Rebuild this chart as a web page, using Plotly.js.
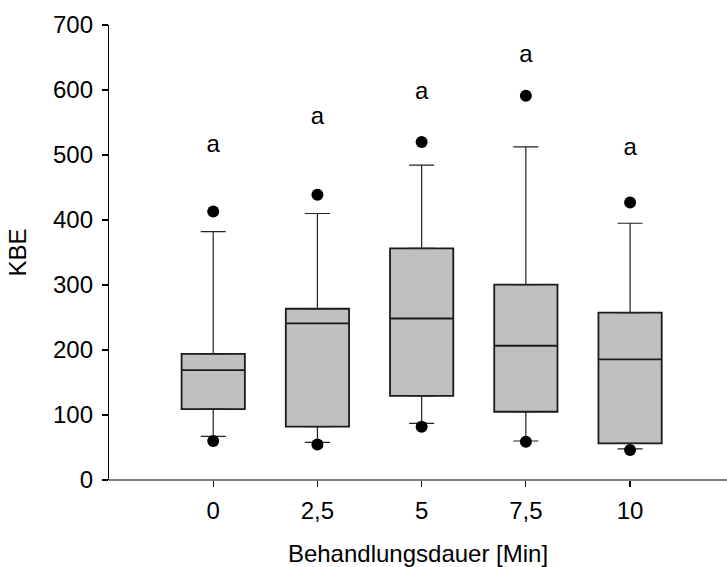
<!DOCTYPE html>
<html>
<head>
<meta charset="utf-8">
<script src="https://cdn.plot.ly/plotly-3.0.1.min.js"></script>
<style>html,body{margin:0;padding:0;background:#fff;overflow:hidden;}#chart{width:727px;height:567px;}</style>
</head>
<body>
<div id="chart"></div>
<script>
var categories = ['0', '2,5', '5', '7,5', '10'];
var q1 = [109, 82, 129.5, 105, 56.5];
var median = [169, 241, 248.5, 206.5, 185.5];
var q3 = [194, 263.5, 356.5, 300.5, 257.5];
var lowerWhisker = [67, 58, 87, 60, 48];
var upperWhisker = [382, 410, 484.5, 512.5, 395];
var outliersHigh = [413, 439, 520, 591, 427];
var outliersLow = [60, 54.5, 82, 59, 46];
var letters = ['a', 'a', 'a', 'a', 'a'];
var letterY = [514, 557, 596, 653, 509];

var FONT = 'Arial, "Liberation Sans", sans-serif';
var FS = 24;

var upArr = upperWhisker.map(function (v, i) { return v - q3[i]; });
var downArr = lowerWhisker.map(function (v, i) { return q1[i] - v; });
var zeros = categories.map(function () { return 0; });

var traces = [
  {
    type: 'scatter', mode: 'none', x: categories, y: q3,
    error_y: { type: 'data', symmetric: false, array: upArr, arrayminus: zeros,
               color: '#222', thickness: 1.2, width: 12.5 },
    hoverinfo: 'skip', showlegend: false
  },
  {
    type: 'scatter', mode: 'none', x: categories, y: q1,
    error_y: { type: 'data', symmetric: false, array: zeros, arrayminus: downArr,
               color: '#222', thickness: 1.2, width: 12.5 },
    hoverinfo: 'skip', showlegend: false
  },
  {
    type: 'box', x: categories, q1: q1, median: median, q3: q3,
    lowerfence: q1, upperfence: q3,
    width: 0.607, whiskerwidth: 0,
    fillcolor: '#c0c0c0',
    line: { color: '#1a1a1a', width: 1.8 },
    boxpoints: false, showlegend: false
  },
  {
    type: 'scatter', mode: 'markers', x: categories.concat(categories),
    y: outliersHigh.concat(outliersLow),
    marker: { color: '#000', size: 12 },
    showlegend: false
  },
  {
    type: 'scatter', mode: 'text', x: categories, y: letterY, text: letters,
    textposition: 'middle center',
    textfont: { family: FONT, size: FS, color: '#000' },
    showlegend: false
  }
];

var layout = {
  width: 727, height: 567,
  margin: { l: 109, r: 0, t: 25, b: 87, autoexpand: false },
  paper_bgcolor: '#fff', plot_bgcolor: '#fff',
  font: { family: FONT, size: FS, color: '#000' },
  showlegend: false,
  xaxis: {
    type: 'category', categoryarray: categories, range: [-1, 4.93],
    showgrid: false, zeroline: false,
    showline: false,
    ticks: 'outside', ticklen: 6, tickcolor: '#000', tickwidth: 1.2,
    ticklabelstandoff: 3,
    tickfont: { family: FONT, size: FS, color: '#000' },
    title: { text: 'Behandlungsdauer [Min]', font: { family: FONT, size: FS, color: '#000' }, standoff: 26 },
    automargin: false
  },
  yaxis: {
    range: [0, 700], tickvals: [0, 100, 200, 300, 400, 500, 600, 700],
    showgrid: false, zeroline: false,
    showline: true, linecolor: '#000', linewidth: 1.2,
    ticks: 'outside', ticklen: 6, tickcolor: '#000', tickwidth: 1.2,
    ticklabelstandoff: 4,
    tickfont: { family: FONT, size: FS, color: '#000' },
    title: { text: 'KBE', font: { family: FONT, size: FS, color: '#000' }, standoff: 19 },
    automargin: false
  },
  shapes: [
    { type: 'line', xref: 'paper', yref: 'paper', x0: 0, x1: 1, y0: 0, y1: 0,
      line: { color: '#000', width: 1.2 } }
  ]
};

Plotly.newPlot('chart', traces, layout, { displayModeBar: false, staticPlot: true });
</script>
</body>
</html>
